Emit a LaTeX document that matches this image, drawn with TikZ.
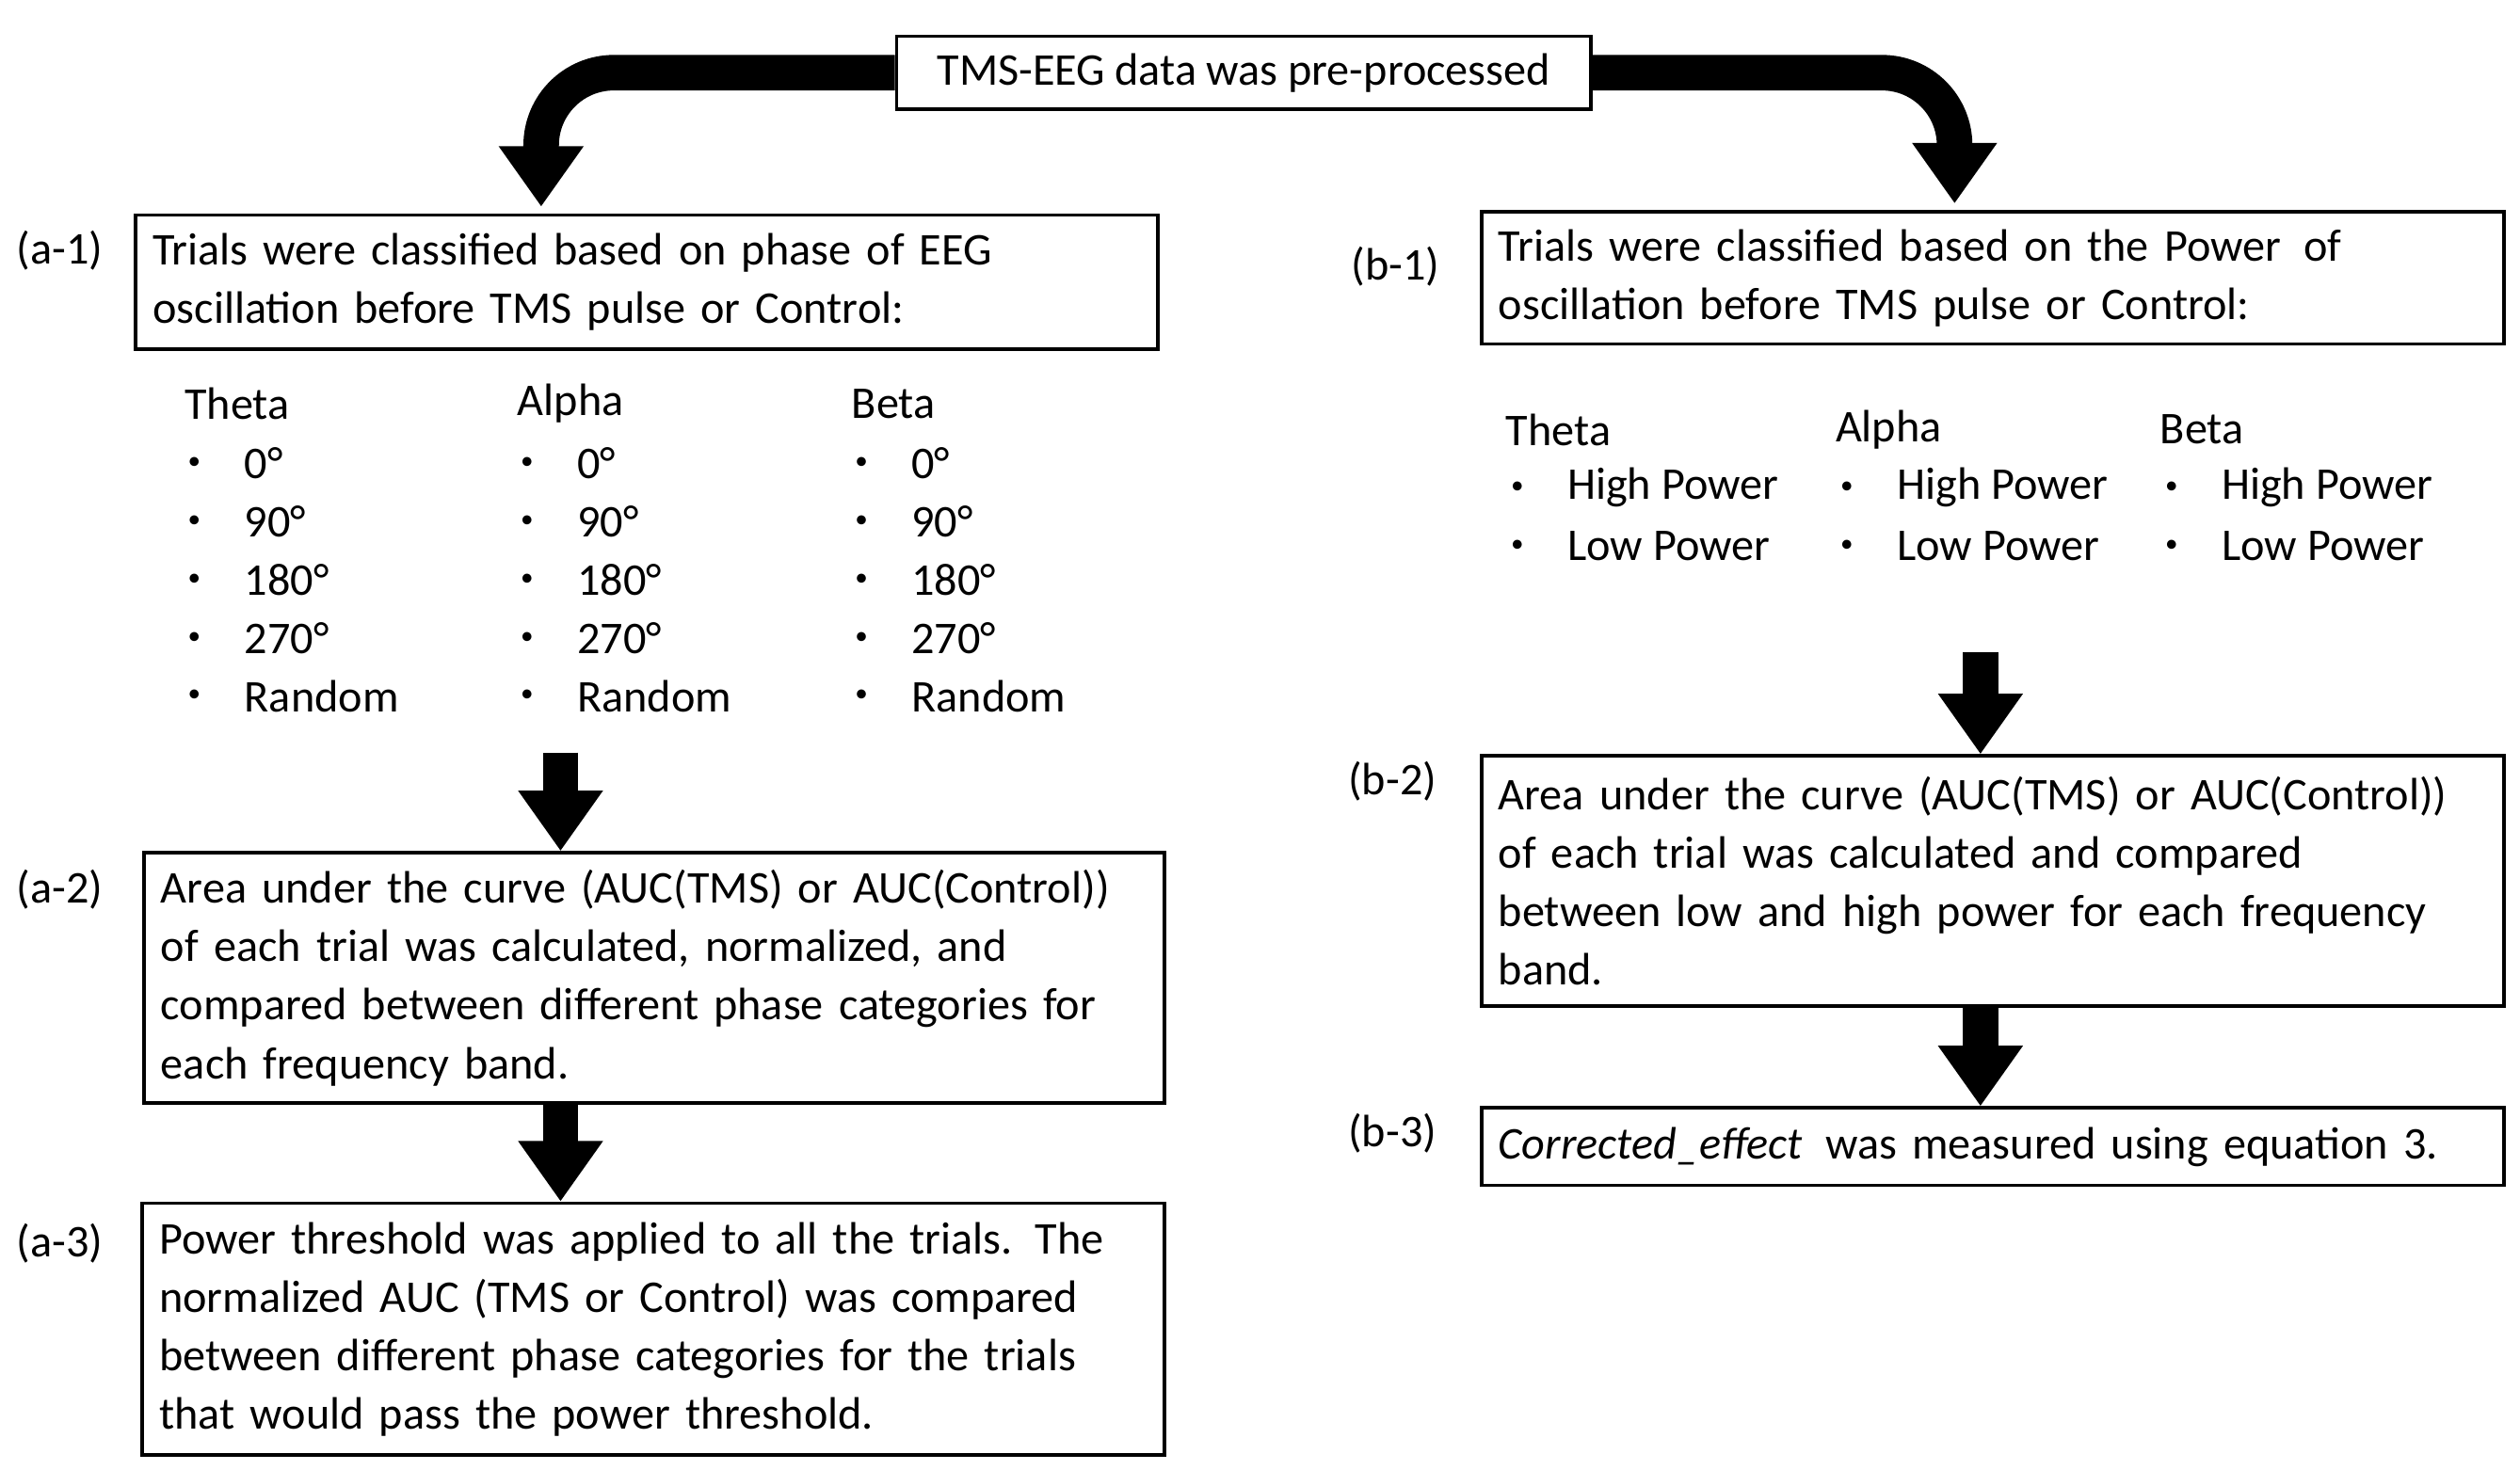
\documentclass[tikz,border=0pt]{standalone}
\usepackage{fontspec}
\setmainfont{Carlito}
\usetikzlibrary{arrows.meta}
\newcommand{\boxfont}{\fontsize{16}{20.6}\selectfont\spaceskip=0.22em plus 0.05em minus 0.05em\relax}
\tikzset{
  box/.style={draw, line width=1.2pt, anchor=north west, align=left, inner xsep=6pt, inner ysep=0pt,
    font=\boxfont},
  lab/.style={font=\fontsize{16}{20}\selectfont},
  txt/.style={anchor=west, inner sep=0pt, font=\fontsize{16}{20}\selectfont},
  big/.style={line width=0.44cm, -{Triangle[width=1cm,length=0.75cm]}}
}
\begin{document}
\begin{tikzpicture}[x=0.02cm,y=-0.02cm]
\useasboundingbox (0,0) rectangle (1560,910);
% top
\node[box, anchor=center, minimum width=8.6cm, minimum height=0.9cm] (top) at (770,45) {TMS-EEG data was pre-processed};
% left column
\node[box, text width=12.66cm-12pt, minimum height=1.66cm] (a1) at (83,132)
  {Trials were classified based on phase of EEG\\oscillation before TMS pulse or Control:};
\node[box, text width=12.64cm-12pt, minimum height=3.1cm] (a2) at (88,527)
  {Area under the curve (AUC(TMS) or AUC(Control))\\of each trial was calculated, normalized, and\\compared between different phase categories for\\each frequency band.};
\node[box, text width=12.66cm-12pt, minimum height=3.12cm] (a3) at (87,744)
  {Power threshold was applied to all the trials. The\\normalized AUC (TMS or Control) was compared\\between different phase categories for the trials\\that would pass the power threshold.};
% right column
\node[box, text width=12.66cm-12pt, minimum height=1.64cm] (b1) at (916,130)
  {Trials were classified based on the Power\, of\\oscillation before TMS pulse or Control:};
\node[box, text width=12.66cm-12pt, minimum height=3.1cm] (b2) at (916,467)
  {Area under the curve (AUC(TMS) or AUC(Control))\\of each trial was calculated and compared\\between low and high power for each frequency\\band.};
\node[box, text width=12.66cm-12pt, minimum height=0.96cm] (b3) at (916,685)
  {\textit{Corrected\_effect}\, was measured using equation 3.};
% step labels
\node[lab] (la1) at (37,155) {(a-1)};
\node[lab] (la2) at (37,551) {(a-2)};
\node[lab] (la3) at (37,770) {(a-3)};
\node[lab] (lb1) at (864,165) {(b-1)};
\node[lab] (lb2) at (862,484) {(b-2)};
\node[lab] (lb3) at (862,702) {(b-3)};
% phase lists
\foreach \x/\band in {114/Theta,320/Alpha,527/Beta}
{
    \node[txt] (h\band) at (\x,250) {\band};
    \foreach \y/\item in {287/0°,323/90°,359/180°,395/270°,431/Random}
    {
        \node[txt] at (\x+2,\y) {\small\textbullet};
        \node[txt] at (\x+37,\y) {\item};
    }
}
% power lists
\foreach \x/\band in {932/Theta,1136/Alpha,1337/Beta}
{
    \node[txt] (p\band) at (\x,266) {\band};
    \foreach \y/\item in {302/High Power,338/Low Power}
    {
        \node[txt] at (\x+3,\y) {\small\textbullet};
        \node[txt] at (\x+38,\y) {\item};
    }
}
% arrows
\coordinate (s1) at (347,466);
\coordinate (s2) at (1226,404);
\draw[big, rounded corners=0.9cm] (top.west) -- (335,45) -- (335,128);
\draw[big, rounded corners=0.9cm] (top.east) -- (1210,45) -- (1210,126);
\draw[big] (s1) -- (a2.north -| s1);
\draw[big] (a2.south -| s1) -- (a3.north -| s1);
\draw[big] (s2) -- (b2.north -| s2);
\draw[big] (b2.south -| s2) -- (b3.north -| s2);
\end{tikzpicture}
\end{document}
